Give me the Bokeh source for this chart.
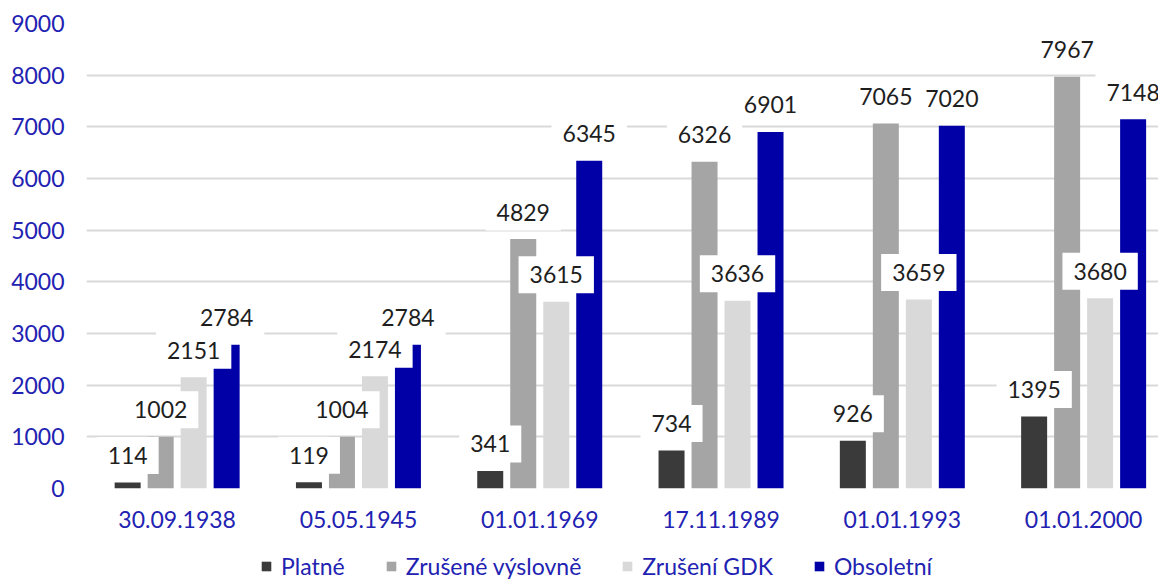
from bokeh.plotting import figure
from bokeh.layouts import column
from bokeh.models import ColumnDataSource, FixedTicker, Legend, LegendItem
from bokeh.core.properties import value
from bokeh.embed import file_html
from bokeh.resources import INLINE

categories = ["30.09.1938", "05.05.1945", "01.01.1969", "17.11.1989", "01.01.1993", "01.01.2000"]
series_names = ["Platné", "Zrušené výslovně", "Zrušení GDK", "Obsoletní"]
platne = [114, 119, 341, 734, 926, 1395]
zrusene_vyslovne = [1002, 1004, 4829, 6326, 7065, 7967]
zruseni_gdk = [2151, 2174, 3615, 3636, 3659, 3680]
obsoletni = [2784, 2784, 6345, 6901, 7020, 7148]
y_ticks = [0, 1000, 2000, 3000, 4000, 5000, 6000, 7000, 8000, 9000]

series = [platne, zrusene_vyslovne, zruseni_gdk, obsoletni]
colors = ["#3a3a3a", "#a5a5a5", "#d9d9d9", "#0000a6"]
FONT = "Lato"
BLUE = "#2222b2"
W = 1158

p = figure(width=W, height=534, output_backend="svg", toolbar_location=None,
           x_range=(-0.5, 5.413), y_range=(0, 9000),
           min_border_left=86, min_border_right=0, min_border_top=23, min_border_bottom=46)
p.outline_line_color = None
p.background_fill_color = "white"
p.border_fill_color = "white"

step = 0.182
bw = 0.1434
offsets = [-1.5 * step, -0.5 * step, 0.5 * step, 1.5 * step]
xs = list(range(len(categories)))

for vals, col, off in zip(series, colors, offsets):
    src = ColumnDataSource(dict(x=[x + off for x in xs], top=vals))
    p.vbar(x="x", top="top", width=bw, bottom=0, source=src,
           fill_color=col, line_color=None)

for vals, off in zip(series, offsets):
    src = ColumnDataSource(dict(x=[x + off for x in xs], y=vals, t=[str(v) for v in vals]))
    p.text(x="x", y="y", text="t", source=src, y_offset=-27,
           text_align="center", text_baseline="middle",
           text_font=value(FONT), text_font_size="23px", text_color="#1e1e1e",
           background_fill_color="white",
           padding=dict(left=11, right=11, top=10, bottom=10))

p.xaxis.ticker = FixedTicker(ticks=xs)
p.xaxis.major_label_overrides = {i: c for i, c in enumerate(categories)}
p.yaxis.ticker = FixedTicker(ticks=y_ticks)
for ax in (p.xaxis[0], p.yaxis[0]):
    ax.axis_line_color = None
    ax.major_tick_line_color = None
    ax.minor_tick_line_color = None
    ax.major_label_text_color = BLUE
    ax.major_label_text_font = FONT
    ax.major_label_text_font_size = "23px"
p.xaxis.major_label_standoff = 16
p.yaxis.major_label_standoff = 16

p.xgrid.grid_line_color = None
p.ygrid.ticker = FixedTicker(ticks=y_ticks)
p.ygrid.grid_line_color = "#d9d9d9"
p.ygrid.grid_line_width = 2
p.ygrid.level = "underlay"

# legend strip (its renderers hold a single hidden placeholder row outside the view)
lg = figure(width=W, height=46, output_backend="svg", toolbar_location=None,
            x_range=(0, 1), y_range=(0, 1),
            min_border_left=0, min_border_right=0, min_border_top=0, min_border_bottom=0)
lg.axis.visible = False
lg.grid.visible = False
lg.outline_line_color = None
lg.border_fill_color = "white"
items = []
for n, col in zip(series_names, colors):
    r = lg.vbar(x=[-5], top=[0], width=0.1, fill_color=col, line_color=None)
    items.append(LegendItem(label=n, renderers=[r]))
legend = Legend(items=items, orientation="horizontal", location=(174, 0),
                label_text_font=FONT, label_text_font_size="23px", label_text_color=BLUE,
                glyph_width=12, glyph_height=12, spacing=40, label_standoff=9,
                border_line_color=None, background_fill_alpha=0, padding=0, margin=0)
lg.add_layout(legend, "center")

layout = column(p, lg, spacing=0)
open("out.html", "w").write(file_html(layout, INLINE))
